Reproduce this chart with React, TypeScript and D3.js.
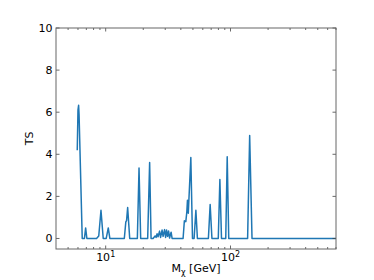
import React, { useEffect, useRef } from 'react';
import * as d3 from 'd3';

// TS scan vs dark matter mass
const massGeV = [
  5.92, 6.0, 6.07, 6.12, 6.49, 6.76, 6.91, 7.07, 8.45, 8.8, 9.17, 9.56, 10.1, 10.49, 10.8,
  14.1, 14.5, 14.7, 15.0, 15.58, 17.94, 18.5, 19.07, 21.7, 22.5, 23.1,
  23.97, 24.87, 25.33, 25.8, 26.28, 27.02, 27.53, 28.3, 28.83, 29.64, 30.2, 30.76, 31.33,
  31.92, 32.51, 33.43, 34.05,
  41.7, 42.7, 43.85, 44.67, 45.2, 45.9, 48.1, 49.6, 51.1, 52.8, 54.3,
  66.5, 68.7, 71.0, 79.8, 82.2, 84.7, 91.6, 94.1, 96.8, 137.1, 142.4, 148.7, 700,
];
const tsValues = [
  4.19, 6.1, 6.33, 5.9, 0, 0, 0.5, 0, 0, 0.12, 1.34, 0, 0, 0.5, 0,
  0, 0.79, 0.85, 1.47, 0, 0, 3.35, 0, 0, 3.61, 0,
  0, 0.12, 0.05, 0.22, 0.08, 0.35, 0.05, 0.4, 0.1, 0.42, 0.05, 0.4, 0.1,
  0.35, 0.02, 0.3, 0,
  0, 0.84, 0.8, 1.26, 1.82, 1.2, 3.85, 0, 0, 1.34, 0,
  0, 1.61, 0, 0, 2.8, 0, 0, 3.88, 0, 0, 4.89, 0, 0,
];
const yTicks = [0, 2, 4, 6, 8, 10];
const xMajor = [10, 100];
const xMinor = [5, 6, 7, 8, 9, 20, 30, 40, 50, 60, 70, 80, 90, 200, 300, 400, 500, 600, 700];

const App = () => {
  const svgRef = useRef<SVGSVGElement>(null);

  useEffect(() => {
    document.body.style.margin = '0';
    const svg = d3.select(svgRef.current);
    svg.selectAll('*').remove();

    const width = 374;
    const height = 280;
    const margin = { top: 28, right: 38, bottom: 31, left: 56 };
    const font = 'DejaVu Sans, sans-serif';

    const x = d3.scaleLog().domain([4, 700]).range([margin.left, width - margin.right]);
    const y = d3.scaleLinear().domain([-0.5, 10]).range([height - margin.bottom, margin.top]);
    const [x0, x1] = x.range();
    const [y0, y1] = y.range();

    const data = massGeV.map((m, i) => ({ m, ts: tsValues[i] }));

    const line = d3.line<{ m: number; ts: number }>()
      .x(d => x(d.m))
      .y(d => y(d.ts));

    svg.append('path')
      .datum(data)
      .attr('d', line)
      .attr('fill', 'none')
      .attr('stroke', '#1f77b4')
      .attr('stroke-width', 1.5)
      .attr('stroke-linejoin', 'round');

    // inward ticks on all four sides
    const ticks = svg.append('g').attr('stroke', '#444').attr('stroke-width', 0.8);
    xMajor.forEach(v => {
      ticks.append('line').attr('x1', x(v)).attr('x2', x(v)).attr('y1', y0).attr('y2', y0 - 3.5);
      ticks.append('line').attr('x1', x(v)).attr('x2', x(v)).attr('y1', y1).attr('y2', y1 + 3.5);
    });
    xMinor.forEach(v => {
      ticks.append('line').attr('x1', x(v)).attr('x2', x(v)).attr('y1', y0).attr('y2', y0 - 2);
      ticks.append('line').attr('x1', x(v)).attr('x2', x(v)).attr('y1', y1).attr('y2', y1 + 2);
    });
    yTicks.forEach(v => {
      ticks.append('line').attr('x1', x0).attr('x2', x0 + 3.5).attr('y1', y(v)).attr('y2', y(v));
      ticks.append('line').attr('x1', x1).attr('x2', x1 - 3.5).attr('y1', y(v)).attr('y2', y(v));
    });

    svg.append('rect')
      .attr('x', x0)
      .attr('y', y1)
      .attr('width', x1 - x0)
      .attr('height', y0 - y1)
      .attr('fill', 'none')
      .attr('stroke', '#666')
      .attr('stroke-width', 1);

    // tick labels
    svg.selectAll('text.ylab')
      .data(yTicks)
      .join('text')
      .attr('class', 'ylab')
      .attr('x', x0 - 3.5)
      .attr('y', d => y(d))
      .attr('dy', '0.36em')
      .attr('text-anchor', 'end')
      .attr('font-family', font)
      .attr('font-size', 11)
      .attr('fill', '#000')
      .text(d => d);

    xMajor.forEach((v, i) => {
      const t = svg.append('text')
        .attr('x', x(v))
        .attr('y', y0 + 12)
        .attr('text-anchor', 'middle')
        .attr('font-family', font)
        .attr('font-size', 11)
        .attr('fill', '#000');
      t.append('tspan').text('10');
      t.append('tspan').attr('dy', -4).attr('font-size', 8).text(String(i + 1));
    });

    // axis titles
    const xt = svg.append('text')
      .attr('x', (x0 + x1) / 2)
      .attr('y', height - 8)
      .attr('text-anchor', 'middle')
      .attr('font-family', font)
      .attr('font-size', 11)
      .attr('fill', '#000');
    xt.append('tspan').text('M');
    xt.append('tspan').attr('dy', 3).attr('font-size', 8).text('χ');
    xt.append('tspan').attr('dy', -3).text(' [GeV]');

    svg.append('text')
      .attr('transform', `translate(33,${(y0 + y1) / 2}) rotate(-90)`)
      .attr('text-anchor', 'middle')
      .attr('font-family', font)
      .attr('font-size', 11)
      .attr('fill', '#000')
      .text('TS');
  }, []);

  return <svg ref={svgRef} width={374} height={280} style={{ display: 'block' }} />;
};

export default App;
